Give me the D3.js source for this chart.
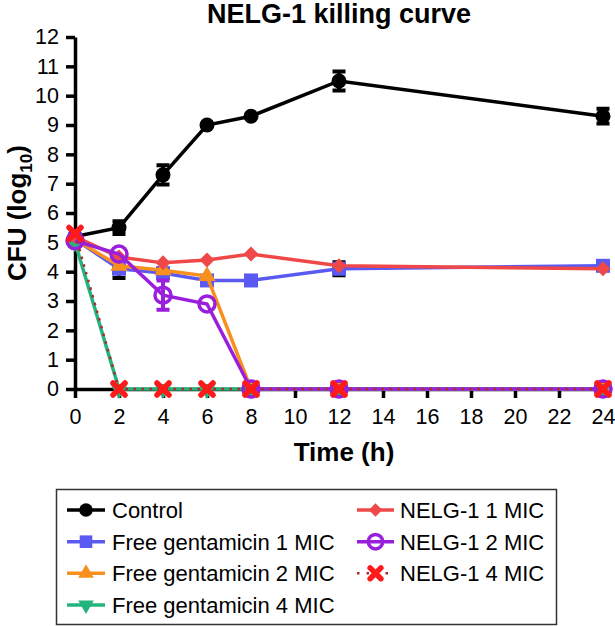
<!DOCTYPE html>
<html>
<head>
<meta charset="utf-8">
<script src="https://cdn.jsdelivr.net/npm/d3@7"></script>
<style>
  html, body { margin: 0; padding: 0; background: #fff; }
  svg { display: block; font-family: "Liberation Sans", Arial, sans-serif; }
</style>
</head>
<body>
<svg id="chart" width="615" height="626"></svg>
<script>
// ---- data ----
const times = [0, 2, 4, 6, 8, 12, 24];
const xTicks = [0, 2, 4, 6, 8, 10, 12, 14, 16, 18, 20, 22, 24];
const yTicks = [0, 1, 2, 3, 4, 5, 6, 7, 8, 9, 10, 11, 12];

const seriesNames = ["Control", "Free gentamicin 1 MIC", "Free gentamicin 2 MIC",
  "Free gentamicin 4 MIC", "NELG-1 1 MIC", "NELG-1 2 MIC", "NELG-1 4 MIC"];

const control   = [5.2, 5.5, 7.3, 9.0, 9.3, 10.5, 9.3];
const controlErr = [0, 0.22, 0.33, 0, 0, 0.32, 0.25];
const gen1      = [5.1, 4.1, 3.95, 3.7, 3.7, 4.1, 4.2];
const gen1Err   = [0, 0.32, 0, 0, 0, 0.22, 0];
const gen2      = [5.1, 4.2, 4.05, 3.85, 0, 0, 0];
const gen4      = [5.0, 0, 0, 0, 0, 0, 0];
const nelg1     = [5.2, 4.5, 4.3, 4.4, 4.6, 4.2, 4.1];
const nelg2     = [5.05, 4.6, 3.2, 2.9, 0, 0, 0];
const nelg2Err  = [0, 0, 0.5, 0, 0, 0, 0];
const nelg4     = [5.3, 0, 0, 0, 0, 0, 0];

// ---- layout ----
const svg = d3.select("#chart");
const x = d3.scaleLinear().domain([0, 24]).range([75, 603]);
const y = d3.scaleLinear().domain([0, 12]).range([389, 37]);

const styles = [
  { color: "#000000", marker: "circle" },
  { color: "#5a5af2", marker: "square" },
  { color: "#f7901e", marker: "triangle" },
  { color: "#23b47c", marker: "triangleDown" },
  { color: "#f04848", marker: "diamond" },
  { color: "#9a1fdc", marker: "openCircle" },
  { color: "#ff1a1a", marker: "cross", dotted: "#b02a2a" }
];
const values = [control, gen1, gen2, gen4, nelg1, nelg2, nelg4];
const errs = [controlErr, gen1Err, null, null, null, nelg2Err, null];
const errColors = ["#000", "#000", null, null, null, "#9a1fdc", null];

// ---- title ----
svg.append("text").attr("x", 339).attr("y", 23).attr("text-anchor", "middle")
  .attr("font-size", 27).attr("font-weight", "bold").text("NELG-1 killing curve");

// ---- axes ----
const xAxis = svg.append("g").attr("transform", `translate(0,${y(0)})`)
  .call(d3.axisBottom(x).tickValues(xTicks).tickSize(9).tickSizeOuter(0).tickPadding(11));
const yAxis = svg.append("g").attr("transform", `translate(${x(0)},0)`)
  .call(d3.axisLeft(y).tickValues(yTicks).tickSize(9).tickSizeOuter(0).tickPadding(7));
[xAxis, yAxis].forEach(g => {
  g.selectAll("path.domain").attr("stroke", "#000").attr("stroke-width", 3.5);
  g.selectAll(".tick line").attr("stroke", "#000").attr("stroke-width", 3.5);
  g.selectAll(".tick text").attr("font-size", 21.5).attr("fill", "#000")
    .attr("font-family", "Liberation Sans, Arial, sans-serif");
});

// axis labels
svg.append("text").attr("x", 344).attr("y", 461).attr("text-anchor", "middle")
  .attr("font-size", 26).attr("font-weight", "bold").text("Time (h)");
const yl = svg.append("text").attr("transform", "translate(26,213) rotate(-90)")
  .attr("text-anchor", "middle").attr("font-size", 26).attr("font-weight", "bold");
yl.append("tspan").text("CFU (log");
yl.append("tspan").attr("font-size", 17).attr("dy", 6).text("10");
yl.append("tspan").attr("dy", -6).text(")");

// ---- markers ----
function drawMarker(g, type, color, cx, cy, s) {
  s = s || 1;
  if (type === "circle") {
    g.append("circle").attr("cx", cx).attr("cy", cy).attr("r", 7.5 * s).attr("fill", color);
  } else if (type === "square") {
    g.append("rect").attr("x", cx - 7 * s).attr("y", cy - 7 * s)
      .attr("width", 14 * s).attr("height", 14 * s).attr("fill", color);
  } else if (type === "triangle") {
    g.append("path").attr("transform", `translate(${cx},${cy})`)
      .attr("d", d3.symbol(d3.symbolTriangle, 130 * s * s)()).attr("fill", color);
  } else if (type === "triangleDown") {
    g.append("path").attr("transform", `translate(${cx},${cy}) rotate(180)`)
      .attr("d", d3.symbol(d3.symbolTriangle, 130 * s * s)()).attr("fill", color);
  } else if (type === "diamond") {
    const r = 7.5 * s;
    g.append("path").attr("d", `M${cx},${cy - r}L${cx + r},${cy}L${cx},${cy + r}L${cx - r},${cy}Z`)
      .attr("fill", color);
  } else if (type === "openCircle") {
    g.append("circle").attr("cx", cx).attr("cy", cy).attr("r", 8 * s)
      .attr("fill", "none").attr("stroke", color).attr("stroke-width", 3.5);
  } else if (type === "cross") {
    const r = 6 * s;
    g.append("path").attr("d", `M${cx - r},${cy - r}L${cx + r},${cy + r}M${cx - r},${cy + r}L${cx + r},${cy - r}`)
      .attr("stroke", color).attr("stroke-width", 5.5).attr("stroke-linecap", "round");
  }
}

// ---- series ----
const plot = svg.append("g");
const line = d3.line().x(d => x(d[0])).y(d => y(d[1]));

values.forEach((vals, i) => {
  const st = styles[i];
  const g = plot.append("g");
  const pts = times.map((t, j) => [t, vals[j]]);
  if (st.dotted) {
    g.append("path").attr("d", line(pts)).attr("fill", "none")
      .attr("stroke", st.dotted).attr("stroke-width", 2.5).attr("stroke-dasharray", "2.5,5.5");
  } else {
    g.append("path").attr("d", line(pts)).attr("fill", "none")
      .attr("stroke", st.color).attr("stroke-width", 3.5);
  }
  const e = errs[i];
  if (e) {
    times.forEach((t, j) => {
      if (e[j] > 0) {
        const cx = x(t), y1 = y(vals[j] + e[j]), y2 = y(vals[j] - e[j]);
        g.append("path").attr("d", `M${cx},${y1}L${cx},${y2}M${cx - 6.5},${y1}L${cx + 6.5},${y1}M${cx - 6.5},${y2}L${cx + 6.5},${y2}`)
          .attr("stroke", errColors[i]).attr("stroke-width", 4).attr("fill", "none");
      }
    });
  }
  times.forEach((t, j) => drawMarker(g, st.marker, st.color, x(t), y(vals[j])));
});

// ---- legend ----
const lg = svg.append("g");
lg.append("rect").attr("x", 56.5).attr("y", 489.5).attr("width", 500).attr("height", 135)
  .attr("fill", "#fff").attr("stroke", "#333").attr("stroke-width", 1.5);
const rowY = [510, 541.7, 573.3, 605];
const legendPos = [
  [0, 0], [0, 1], [0, 2], [0, 3], [1, 0], [1, 1], [1, 2]
];
const colLine = [[67, 105], [357, 394]];
const colText = [112, 400];
seriesNames.forEach((name, i) => {
  const [c, r] = legendPos[i];
  const st = styles[i];
  const cy = rowY[r];
  const [l0, l1] = colLine[c];
  if (st.dotted) {
    lg.append("path").attr("d", `M${l0},${cy}L${l1},${cy}`).attr("stroke", st.dotted)
      .attr("stroke-width", 2.5).attr("stroke-dasharray", "2.5,7");
  } else {
    lg.append("path").attr("d", `M${l0},${cy}L${l1},${cy}`).attr("stroke", st.color)
      .attr("stroke-width", 3.5);
  }
  drawMarker(lg, st.marker, st.color, (l0 + l1) / 2, cy, 0.9);
  lg.append("text").attr("x", colText[c]).attr("y", cy).attr("dy", "0.36em")
    .attr("font-size", 22).text(name);
});
</script>
</body>
</html>
